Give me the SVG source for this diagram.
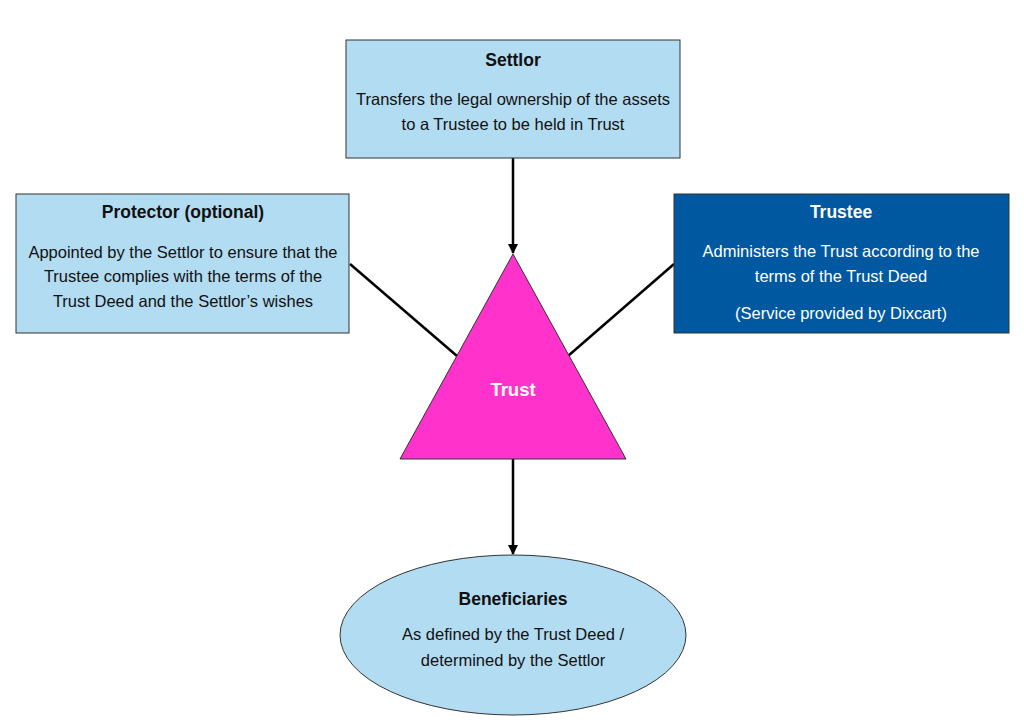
<svg xmlns="http://www.w3.org/2000/svg" width="1024" height="724" viewBox="0 0 1024 724">
<style>
text{font-family:"Liberation Sans",Arial,sans-serif;font-size:16.5px;text-anchor:middle;fill:#111}
.t{font-weight:bold;font-size:17.5px}
.w{fill:#fff}
.box{fill:#B2DCF2;stroke:#333;stroke-width:1}
.conn{stroke:#000;stroke-width:2.5;fill:none}
</style>
<defs>
<marker id="arr" viewBox="0 0 10 10" refX="9" refY="5" markerWidth="4" markerHeight="4" orient="auto" markerUnits="strokeWidth">
<path d="M0,0 L10,5 L0,10 z" fill="#000"/>
</marker>
</defs>
<rect width="1024" height="724" fill="#fff"/>
<g id="connectors">
<line class="conn" x1="513" y1="158" x2="513" y2="253" marker-end="url(#arr)"/>
<line class="conn" x1="350" y1="264" x2="457" y2="356"/>
<line class="conn" x1="674" y1="264" x2="568" y2="356"/>
<line class="conn" x1="513" y1="459" x2="513" y2="554" marker-end="url(#arr)"/>
</g>
<g id="settlor">
<rect class="box" x="346" y="40" width="334" height="118"/>
<text class="t" x="513" y="66">Settlor</text>
<text x="513" y="105">Transfers the legal ownership of the assets</text>
<text x="513" y="130">to a Trustee to be held in Trust</text>
</g>
<g id="protector">
<rect class="box" x="16" y="194" width="333" height="139"/>
<text class="t" x="183" y="218">Protector (optional)</text>
<text x="183" y="258">Appointed by the Settlor to ensure that the</text>
<text x="183" y="282">Trustee complies with the terms of the</text>
<text x="183" y="307">Trust Deed and the Settlor’s wishes</text>
</g>
<g id="trustee">
<rect x="674" y="194" width="335" height="139" fill="#0058A0" stroke="#333" stroke-width="1"/>
<text class="t w" x="841" y="218">Trustee</text>
<text class="w" x="841" y="257">Administers the Trust according to the</text>
<text class="w" x="841" y="282">terms of the Trust Deed</text>
<text class="w" x="841" y="319">(Service provided by Dixcart)</text>
</g>
<g id="trust">
<polygon points="513,254 626,459 400,459" fill="#FF33CC" stroke="#333" stroke-width="1"/>
<text class="t w" x="513" y="396" style="font-size:18.5px">Trust</text>
</g>
<g id="beneficiaries">
<ellipse cx="513" cy="635" rx="173" ry="80" fill="#B2DCF2" stroke="#333" stroke-width="1"/>
<text class="t" x="513" y="605">Beneficiaries</text>
<text x="513" y="640">As defined by the Trust Deed /</text>
<text x="513" y="666">determined by the Settlor</text>
</g>
</svg>
